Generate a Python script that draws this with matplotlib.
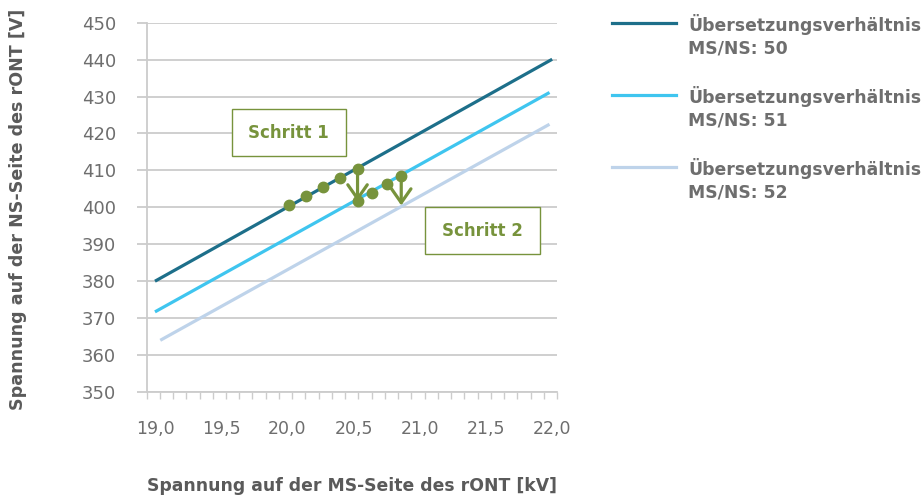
import numpy as np
import matplotlib.pyplot as plt
from matplotlib.lines import Line2D
from matplotlib.patches import Rectangle

# lines: MS voltage [kV] vs NS voltage [V]
x_50 = [19.0, 22.0]
y_50 = [380.0, 440.1]
x_51 = [19.0, 21.98]
y_51 = [371.7, 431.1]
x_52 = [19.04, 21.98]
y_52 = [364.0, 422.5]

labels = ["Übersetzungsverhältnis\nMS/NS: 50",
          "Übersetzungsverhältnis\nMS/NS: 51",
          "Übersetzungsverhältnis\nMS/NS: 52"]
colors = ["#1d6f8a", "#3fc5ef", "#bed3ea"]

# green dots (regulation steps)
dots_x = [20.01, 20.14, 20.27, 20.40, 20.53, 20.53, 20.64, 20.75, 20.86]
dots_y = [400.6, 403.1, 405.5, 408.0, 410.5, 401.6, 403.9, 406.3, 408.6]

# arrows: (x, y_start, y_end)
arrows = [(20.53, 410.5, 401.6), (20.86, 408.6, 400.5)]

xticks = [19.0, 19.5, 20.0, 20.5, 21.0, 21.5, 22.0]
xticklabels = ["19,0", "19,5", "20,0", "20,5", "21,0", "21,5", "22,0"]
yticks = list(range(350, 451, 10))

green = "#77933c"
grid = "#cccccc"
tick_col = "#6e6e6e"
lab_col = "#5a5a5a"

fig = plt.figure(figsize=(9.24, 4.97), dpi=100)
ax = fig.add_axes([146.5/924, 1-392/497, (557-146.5)/924, (392-22.7)/497])

xmin, xmax = 18.936, 22.035
ax.set_xlim(xmin, xmax)
ax.set_ylim(350, 450)

for xs, ys, c in zip([x_50, x_51, x_52], [y_50, y_51, y_52], colors):
    ax.plot(xs, ys, color=c, lw=2.3, solid_capstyle='butt', zorder=3)

ax.plot(dots_x, dots_y, 'o', color=green, ms=7.5, zorder=5)
for x, y0, y1 in arrows:
    ax.annotate('', xy=(x, y1), xytext=(x, y0),
                arrowprops=dict(arrowstyle='->,head_length=1.0,head_width=0.7',
                                color=green, lw=2.3, mutation_scale=10,
                                shrinkA=0, shrinkB=0), zorder=4)

# text boxes
for (bx0, by0, bx1, by1), txt in [((19.581, 413.9, 20.44, 426.6), "Schritt 1"),
                                   ((21.043, 387.3, 21.91, 400.1), "Schritt 2")]:
    ax.add_patch(Rectangle((bx0, by0), bx1-bx0, by1-by0, facecolor='white',
                           edgecolor=green, lw=1.0, zorder=6))
    ax.text((bx0+bx1)/2, (by0+by1)/2, txt, color=green, fontsize=12,
            fontweight='bold', ha='center', va='center', zorder=7)

ax.set_yticks(yticks)
ax.grid(axis='y', color=grid, lw=1.3, zorder=0)
ax.tick_params(axis='y', length=7.5, width=1.3, color=grid, pad=14.5,
               labelsize=13, labelcolor=tick_col)

ax.set_xticks(xticks)
ax.set_xticklabels(xticklabels)
ax.tick_params(axis='x', which='major', length=0, pad=20.5,
               labelsize=12.5, labelcolor=tick_col)
minor = xmin + 0.1*np.arange(32) + 0.0005
ax.set_xticks(minor, minor=True)
ax.tick_params(axis='x', which='minor', length=5, width=1.0, color=grid)
for i, t in enumerate(ax.xaxis.get_minor_ticks()):
    if i in (21, 26):
        t.tick1line.set_color("#f4a38c")

for s in ['top', 'right']:
    ax.spines[s].set_visible(False)
ax.spines['left'].set_color(grid)
ax.spines['left'].set_linewidth(1.3)
ax.spines['bottom'].set_color(grid)
ax.spines['bottom'].set_linewidth(1.3)

fig.text(352/924, 1-486/497, "Spannung auf der MS-Seite des rONT [kV]",
         ha='center', va='center', fontsize=12.4, fontweight='bold', color=lab_col)
fig.text(18/924, 1-209/497, "Spannung auf der NS-Seite des rONT [V]",
         ha='center', va='center', rotation=90, fontsize=12.6,
         fontweight='bold', color=lab_col)

# legend drawn by hand so the line sits at the first text row
for i, (lab, c) in enumerate(zip(labels, colors)):
    yl = 1 - (23 + 72*i)/497
    fig.add_artist(Line2D([612/924, 676/924], [yl, yl], color=c, lw=2.3,
                          transform=fig.transFigure))
    fig.text(688/924, yl + 9/497, lab, ha='left', va='top', fontsize=12.4,
             fontweight='bold', color=tick_col, linespacing=1.3)

fig.savefig("out.png", dpi=100)
